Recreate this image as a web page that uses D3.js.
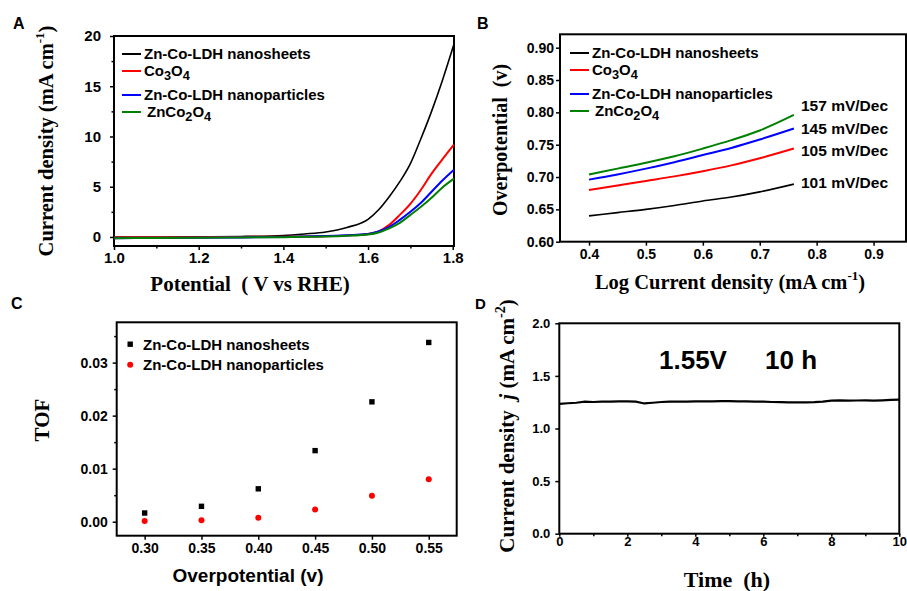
<!DOCTYPE html>
<html>

<head>
  <meta charset="utf-8">
  <title>OER panels</title>
  <script type="text/javascript" src="https://cdn.jsdelivr.net/npm/d3@7"></script>
  <style type="text/css">
    body { margin: 0; background: #fff; }
    text { font-family: "Liberation Sans", Arial, sans-serif; font-weight: bold; }
    .serif { font-family: "Liberation Serif", "Times New Roman", serif; }
  </style>
</head>

<body>
  <script type="text/javascript">

    // ---- data ----
    // A: polarization curves
    const potential = [1.0, 1.1, 1.2, 1.3, 1.4, 1.45, 1.5, 1.55, 1.6, 1.625, 1.65, 1.675, 1.7, 1.725, 1.75, 1.775, 1.803];
    const jSheets = [0, 0, 0.02, 0.05, 0.15, 0.3, 0.5, 0.95, 1.75, 2.7, 4.0, 5.5, 7.3, 9.8, 12.5, 15.5, 19.2];
    const jCo3O4 = [-0.05, -0.05, -0.03, 0, 0.03, 0.05, 0.08, 0.15, 0.3, 0.55, 1.2, 2.2, 3.3, 4.7, 6.3, 7.7, 9.2];
    const jParticles = [-0.12, -0.1, -0.08, -0.05, 0, 0.05, 0.1, 0.18, 0.3, 0.55, 1.0, 1.7, 2.5, 3.4, 4.5, 5.6, 6.7];
    const jZnCo2O4 = [-0.12, -0.1, -0.08, -0.05, -0.02, 0.02, 0.05, 0.12, 0.25, 0.45, 0.85, 1.4, 2.2, 3.0, 3.9, 4.9, 5.8];

    // B: Tafel plots
    const logJ = [0.4, 0.45, 0.5, 0.55, 0.6, 0.65, 0.7, 0.76];
    const etaSheets = [0.640, 0.645, 0.650, 0.656, 0.663, 0.669, 0.677, 0.689];
    const etaCo3O4 = [0.680, 0.687, 0.694, 0.701, 0.709, 0.718, 0.729, 0.744];
    const etaParticles = [0.696, 0.704, 0.713, 0.723, 0.734, 0.745, 0.758, 0.775];
    const etaZnCo2O4 = [0.704, 0.713, 0.722, 0.732, 0.744, 0.757, 0.772, 0.796];
    const tafelLabels = ["101 mV/Dec", "105 mV/Dec", "145 mV/Dec", "157 mV/Dec"];

    // C: TOF
    const overpotential = [0.30, 0.35, 0.40, 0.45, 0.50, 0.55];
    const tofSheets = [0.00164, 0.0029, 0.0062, 0.0134, 0.0226, 0.0338];
    const tofParticles = [0.00013, 0.00025, 0.00076, 0.0023, 0.0049, 0.0080];

    // D: stability
    const time = [0, 0.25, 0.5, 0.75, 1, 1.25, 1.5, 1.75, 2, 2.25, 2.5, 2.75, 3, 3.25, 3.5, 3.75, 4, 4.25, 4.5, 4.75, 5,
      5.25, 5.5, 5.75, 6, 6.25, 6.5, 6.75, 7, 7.25, 7.5, 7.75, 8, 8.25, 8.5, 8.75, 9, 9.25, 9.5, 9.75, 10];
    const jTime = [1.235, 1.24, 1.245, 1.255, 1.252, 1.255, 1.255, 1.258, 1.258, 1.255, 1.238, 1.245, 1.252, 1.255, 1.256,
      1.255, 1.258, 1.257, 1.258, 1.26, 1.26, 1.258, 1.258, 1.256, 1.255, 1.252, 1.25, 1.249, 1.248, 1.249, 1.25, 1.255,
      1.265, 1.268, 1.265, 1.266, 1.268, 1.265, 1.268, 1.272, 1.275];

    const seriesNames = ["Zn-Co-LDH nanosheets", "Co3O4", "Zn-Co-LDH nanoparticles", "ZnCo2O4"];
    const seriesColors = ["#000000", "#ff0000", "#0000ff", "#008000"];

    const W = 907, H = 591;
    const svg = d3.select("body").append("svg").attr("width", W).attr("height", H);

    // frame + axes helper
    function panel(x, y, opt) {
      const g = svg.append("g");
      const xs = d3.scaleLinear().domain(opt.xd).range([x[0], x[1]]);
      const ys = d3.scaleLinear().domain(opt.yd).range([y[1], y[0]]);

      g.append("rect").attr("x", x[0]).attr("y", y[0])
        .attr("width", x[1] - x[0]).attr("height", y[1] - y[0])
        .attr("fill", "none").attr("stroke", "#000").attr("stroke-width", 2);

      g.append("g").attr("transform", `translate(0,${y[1]})`)
        .call(d3.axisBottom(xs).tickValues(opt.xt).tickFormat(opt.xf).tickSize(opt.ts || 4).tickPadding(opt.xp))
        .call(a => a.select(".domain").remove());
      if (opt.xm) {
        g.append("g").attr("transform", `translate(0,${y[1]})`)
          .call(d3.axisBottom(xs).tickValues(opt.xm).tickFormat("").tickSize(2.5))
          .call(a => a.select(".domain").remove());
      }
      g.append("g").attr("transform", `translate(${x[0]},0)`)
        .call(d3.axisLeft(ys).tickValues(opt.yt).tickFormat(opt.yf).tickSize(4).tickPadding(opt.yp))
        .call(a => a.select(".domain").remove());
      if (opt.ym) {
        g.append("g").attr("transform", `translate(${x[0]},0)`)
          .call(d3.axisLeft(ys).tickValues(opt.ym).tickFormat("").tickSize(2.5))
          .call(a => a.select(".domain").remove());
      }
      g.selectAll(".tick line").attr("stroke-width", 1.5);
      g.selectAll(".tick text").attr("font-size", opt.fs || 14).attr("font-weight", "bold")
        .attr("font-family", "Liberation Sans, Arial, sans-serif").attr("fill", "#000");
      return { g, xs, ys };
    }

    function chemLabel(sel, name) {
      // write Co3O4 / ZnCo2O4 with subscripts
      if (name.indexOf("LDH") >= 0) { sel.text(name); return; }
      name.match(/[A-Za-z\-\s]+|\d+/g).forEach(p => {
        if (/^\d+$/.test(p)) {
          sel.append("tspan").attr("baseline-shift", "-28%").attr("font-size", "85%").text(p);
        } else {
          sel.append("tspan").text(p);
        }
      });
    }

    function legendLines(g, x0, ys) {
      seriesNames.forEach((n, i) => {
        g.append("line").attr("x1", x0).attr("x2", x0 + 19).attr("y1", ys[i]).attr("y2", ys[i])
          .attr("stroke", seriesColors[i]).attr("stroke-width", 2);
        const t = g.append("text").attr("x", x0 + (i === 3 ? 25 : 22)).attr("y", ys[i] + 5)
          .attr("font-size", 15);
        chemLabel(t, n);
      });
    }

    // ---------------- A ----------------
    const A = panel([114, 454], [36, 246], {
      xd: [1.0, 1.803], yd: [-0.9, 20],
      xt: [1.0, 1.2, 1.4, 1.6, 1.8], xm: [1.1, 1.3, 1.5, 1.7], xf: d3.format(".1f"), xp: 2,
      yt: [0, 5, 10, 15, 20], ym: [2.5, 7.5, 12.5, 17.5], yf: d3.format("d"), yp: 9, fs: 15
    });
    const lineA = d3.line().x(d => A.xs(d[0])).y(d => A.ys(d[1])).curve(d3.curveMonotoneX);
    [jSheets, jCo3O4, jParticles, jZnCo2O4].forEach((s, i) => {
      A.g.append("path").datum(potential.map((p, k) => [p, s[k]]))
        .attr("d", lineA).attr("fill", "none").attr("stroke", seriesColors[i])
        .attr("stroke-width", i === 0 ? 1.6 : 2);
    });
    legendLines(A.g, 122, [54, 71, 95, 112]);
    A.g.append("text").attr("x", 13).attr("y", 29).attr("font-size", 16).text("A");
    A.g.append("text").attr("class", "serif").attr("font-size", 20.5)
      .attr("transform", "translate(53,141) rotate(-90)").attr("text-anchor", "middle")
      .call(t => {
        t.append("tspan").text("Current density (mA cm");
        t.append("tspan").attr("dy", -9).attr("font-size", 13).text("-1");
        t.append("tspan").attr("dy", 9).text(")");
      });
    A.g.append("text").attr("class", "serif").attr("font-size", 21).attr("x", 250).attr("y", 291)
      .attr("text-anchor", "middle").attr("xml:space", "preserve").text("Potential  ( V vs RHE)");

    // ---------------- B ----------------
    const B = panel([560, 906], [34.3, 241.7], {
      xd: [0.349, 0.957], yd: [0.60, 0.9207],
      xt: [0.4, 0.5, 0.6, 0.7, 0.8, 0.9], xf: d3.format(".1f"), xp: 3,
      yt: [0.60, 0.65, 0.70, 0.75, 0.80, 0.85, 0.90], yf: d3.format(".2f"), yp: 2
    });
    const lineB = d3.line().x(d => B.xs(d[0])).y(d => B.ys(d[1])).curve(d3.curveMonotoneX);
    [etaSheets, etaCo3O4, etaParticles, etaZnCo2O4].forEach((s, i) => {
      B.g.append("path").datum(logJ.map((p, k) => [p, s[k]]))
        .attr("d", lineB).attr("fill", "none").attr("stroke", seriesColors[i])
        .attr("stroke-width", i === 0 ? 1.6 : 2);
    });
    legendLines(B.g, 570, [53, 70, 94, 111]);
    const tafelY = [182, 150, 128, 105];
    tafelLabels.forEach((l, i) => {
      B.g.append("text").attr("x", 801).attr("y", tafelY[i] + 5.5).attr("font-size", 15.5).text(l);
    });
    B.g.append("text").attr("x", 477).attr("y", 29).attr("font-size", 16).text("B");
    B.g.append("text").attr("class", "serif").attr("font-size", 20)
      .attr("transform", "translate(507,140) rotate(-90)").attr("text-anchor", "middle")
      .attr("xml:space", "preserve").text("Overpotential  (v)");
    B.g.append("text").attr("class", "serif").attr("font-size", 20.5).attr("x", 730).attr("y", 289)
      .attr("text-anchor", "middle")
      .call(t => {
        t.append("tspan").text("Log Current density (mA cm");
        t.append("tspan").attr("dy", -9).attr("font-size", 13).text("-1");
        t.append("tspan").attr("dy", 9).text(")");
      });

    // ---------------- C ----------------
    const C = panel([116.7, 456.7], [322.3, 535.7], {
      xd: [0.2754, 0.5746], yd: [-0.00264, 0.0376],
      xt: overpotential, xf: d3.format(".2f"), xp: 3,
      yt: [0, 0.01, 0.02, 0.03], ym: [0.005, 0.015, 0.025, 0.035], yf: d3.format(".2f"), yp: 5
    });
    C.g.selectAll("rect.sq").data(overpotential.map((p, k) => [p, tofSheets[k]])).enter()
      .append("rect").attr("class", "sq")
      .attr("x", d => C.xs(d[0]) - 2.7).attr("y", d => C.ys(d[1]) - 2.7)
      .attr("width", 5.4).attr("height", 5.4).attr("fill", "#000");
    C.g.selectAll("circle.pt").data(overpotential.map((p, k) => [p, tofParticles[k]])).enter()
      .append("circle").attr("class", "pt")
      .attr("cx", d => C.xs(d[0])).attr("cy", d => C.ys(d[1])).attr("r", 3).attr("fill", "#ff0000");
    C.g.append("rect").attr("x", 127.5).attr("y", 341.5).attr("width", 5.4).attr("height", 5.4).attr("fill", "#000");
    C.g.append("text").attr("x", 143).attr("y", 350).attr("font-size", 15).text(seriesNames[0]);
    C.g.append("circle").attr("cx", 130.2).attr("cy", 364.7).attr("r", 3).attr("fill", "#ff0000");
    C.g.append("text").attr("x", 143).attr("y", 370).attr("font-size", 15).text(seriesNames[2]);
    C.g.append("text").attr("x", 11).attr("y", 309).attr("font-size", 16).text("C");
    C.g.append("text").attr("class", "serif").attr("font-size", 21)
      .attr("transform", "translate(49,420) rotate(-90)").attr("text-anchor", "middle").text("TOF");
    C.g.append("text").attr("font-size", 19).attr("x", 248).attr("y", 582)
      .attr("text-anchor", "middle").text("Overpotential (v)");

    // ---------------- D ----------------
    const D = panel([559.3, 899.3], [323.3, 533.7], {
      xd: [0, 10], yd: [0, 2.0],
      xt: [0, 2, 4, 6, 8, 10], xm: [1, 3, 5, 7, 9], xf: d3.format("d"), xp: 0, ts: 3,
      yt: [0, 0.5, 1.0, 1.5, 2.0], yf: d3.format(".1f"), yp: 5, fs: 13
    });
    const lineD = d3.line().x(d => D.xs(d[0])).y(d => D.ys(d[1]));
    D.g.append("path").datum(time.map((t, k) => [t, jTime[k]]))
      .attr("d", lineD).attr("fill", "none").attr("stroke", "#000").attr("stroke-width", 2.2);
    D.g.append("text").attr("x", 659).attr("y", 369).attr("font-size", 26).text("1.55V");
    D.g.append("text").attr("x", 765).attr("y", 369).attr("font-size", 26).text("10 h");
    D.g.append("text").attr("x", 475).attr("y", 309).attr("font-size", 15).text("D");
    D.g.append("text").attr("class", "serif").attr("font-size", 21)
      .attr("transform", "translate(514,426) rotate(-90)").attr("text-anchor", "middle")
      .call(t => {
        t.append("tspan").attr("xml:space", "preserve").text("Current density  ");
        t.append("tspan").attr("font-style", "italic").text("j ");
        t.append("tspan").text("(mA cm");
        t.append("tspan").attr("dy", -9).attr("font-size", 14).text("-2");
        t.append("tspan").attr("dy", 9).text(")");
      });
    D.g.append("text").attr("class", "serif").attr("font-size", 22).attr("x", 727).attr("y", 587)
      .attr("text-anchor", "middle").attr("xml:space", "preserve").text("Time  (h)");

  </script>
</body>

</html>
